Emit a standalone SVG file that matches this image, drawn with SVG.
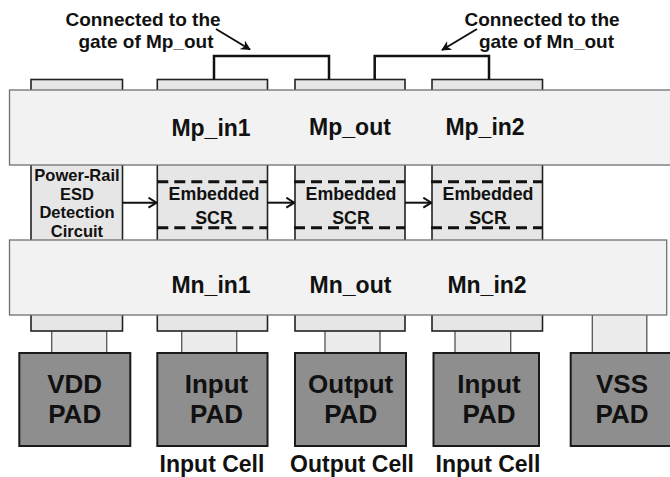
<svg xmlns="http://www.w3.org/2000/svg" width="670" height="477" viewBox="0 0 670 477">
<defs>
<style>
.t{font-family:"Liberation Sans",Arial,sans-serif;font-weight:bold;fill:#111;text-anchor:middle}
.rail{fill:#f2f2f2;stroke:#707070;stroke-width:1.3}
.col{fill:#e6e6e6;stroke:#222;stroke-width:1.6}
.link{fill:#ececec;stroke:#555;stroke-width:1.3}
.pad{fill:#8e8e8e;stroke:#1a1a1a;stroke-width:2}
.dash{stroke:#111;stroke-width:3;stroke-dasharray:11 6;fill:none}
.wire{stroke:#111;stroke-width:2.5;fill:none}
</style>
<marker id="fa" viewBox="0 0 10 10" refX="9" refY="5" markerWidth="10" markerHeight="10" markerUnits="userSpaceOnUse" orient="auto">
<path d="M0,0 L10,5 L0,10 L3,5 Z" fill="#111"/>
</marker>
<marker id="oa" viewBox="0 0 10 12" refX="9" refY="6" markerWidth="10" markerHeight="12" markerUnits="userSpaceOnUse" orient="auto">
<path d="M1,1 L9,6 L1,11" fill="none" stroke="#111" stroke-width="2"/>
</marker>
</defs>
<rect width="670" height="477" fill="#fff"/>

<g id="pad-links">
<rect class="link" x="51.7" y="330" width="55" height="23"/>
<rect class="link" x="181.7" y="330" width="55" height="23"/>
<rect class="link" x="325" y="330" width="55" height="23"/>
<rect class="link" x="455" y="330" width="55.7" height="23"/>
<rect class="link" x="592.3" y="314" width="54.5" height="39"/>
</g>

<g id="col-esd">
<rect class="col" x="31" y="79.5" width="91.5" height="251.5"/>
</g>
<g id="col-in1">
<rect class="col" x="157.3" y="79.5" width="110.2" height="251.5"/>
</g>
<g id="col-out">
<rect class="col" x="295" y="79.5" width="110" height="251.5"/>
</g>
<g id="col-in2">
<rect class="col" x="432" y="79.5" width="110.5" height="251.5"/>
</g>

<g id="vdd-rail">
<rect class="rail" x="9.5" y="90" width="670" height="75"/>
<text class="t" x="211" y="136" font-size="23">Mp_in1</text>
<text class="t" x="350" y="135" font-size="23">Mp_out</text>
<text class="t" x="485" y="135" font-size="23">Mp_in2</text>
</g>
<g id="vss-rail">
<rect class="rail" x="9.5" y="240" width="657.2" height="75"/>
<text class="t" x="211" y="292.5" font-size="23">Mn_in1</text>
<text class="t" x="350.5" y="292.5" font-size="23">Mn_out</text>
<text class="t" x="487" y="292.5" font-size="23">Mn_in2</text>
</g>

<g id="esd-detect">
<text class="t" x="77" y="181" font-size="16.5">Power-Rail</text>
<text class="t" x="77" y="199.5" font-size="16.5">ESD</text>
<text class="t" x="77" y="218" font-size="16.5">Detection</text>
<text class="t" x="77" y="236.5" font-size="16.5">Circuit</text>
</g>

<g id="scr1">
<line class="dash" x1="157.3" y1="181.7" x2="267.5" y2="181.7"/>
<line class="dash" x1="157.3" y1="227.7" x2="267.5" y2="227.7"/>
<text class="t" x="214" y="200" font-size="17.8">Embedded</text>
<text class="t" x="214" y="224" font-size="17.8">SCR</text>
</g>
<g id="scr2">
<line class="dash" x1="294" y1="181.7" x2="405" y2="181.7"/>
<line class="dash" x1="294" y1="227.7" x2="405" y2="227.7"/>
<text class="t" x="351" y="200" font-size="17.8">Embedded</text>
<text class="t" x="351" y="224" font-size="17.8">SCR</text>
</g>
<g id="scr3">
<line class="dash" x1="431" y1="181.7" x2="542.5" y2="181.7"/>
<line class="dash" x1="431" y1="227.7" x2="542.5" y2="227.7"/>
<text class="t" x="488" y="200" font-size="17.8">Embedded</text>
<text class="t" x="488" y="224" font-size="17.8">SCR</text>
</g>

<g id="pad-vdd">
<rect class="pad" x="19.3" y="353" width="111" height="93"/>
<text class="t" x="74.7" y="392.7" font-size="26">VDD</text>
<text class="t" x="74.7" y="423.3" font-size="26">PAD</text>
</g>
<g id="pad-in1">
<rect class="pad" x="157.3" y="353" width="110.2" height="93"/>
<text class="t" x="216.5" y="392.7" font-size="26">Input</text>
<text class="t" x="216.5" y="423.3" font-size="26">PAD</text>
</g>
<g id="pad-out">
<rect class="pad" x="295" y="353" width="111" height="93"/>
<text class="t" x="350.7" y="392.7" font-size="26">Output</text>
<text class="t" x="350.7" y="423.3" font-size="26">PAD</text>
</g>
<g id="pad-in2">
<rect class="pad" x="433.5" y="353" width="105.5" height="93"/>
<text class="t" x="489" y="392.7" font-size="26">Input</text>
<text class="t" x="489" y="423.3" font-size="26">PAD</text>
</g>
<g id="pad-vss">
<rect class="pad" x="570.7" y="353" width="110" height="93"/>
<text class="t" x="622" y="392.7" font-size="26">VSS</text>
<text class="t" x="622" y="423.3" font-size="26">PAD</text>
</g>

<g id="cell-labels">
<text class="t" x="212" y="471.5" font-size="23">Input Cell</text>
<text class="t" x="352" y="471.5" font-size="23">Output Cell</text>
<text class="t" x="488" y="471.5" font-size="23">Input Cell</text>
</g>

<g id="notes">
<text class="t" x="143" y="25.7" font-size="19">Connected to the</text>
<text class="t" x="146" y="47.5" font-size="19">gate of Mp_out</text>
<text class="t" x="542" y="25.7" font-size="19">Connected to the</text>
<text class="t" x="546.5" y="47.5" font-size="19">gate of Mn_out</text>
</g>

<g id="connectors">
<path class="wire" d="M214,79.5 V56 H329 V79.5"/>
<path class="wire" d="M374.7,79.5 V56 H489 V79.5"/>
<line x1="216" y1="29" x2="250" y2="49.5" stroke="#111" stroke-width="2" marker-end="url(#fa)"/>
<line x1="477" y1="29" x2="442" y2="50" stroke="#111" stroke-width="2" marker-end="url(#fa)"/>
<line x1="122.5" y1="202.7" x2="156.5" y2="202.7" stroke="#111" stroke-width="2" marker-end="url(#oa)"/>
<line x1="267.5" y1="202.7" x2="294.3" y2="202.7" stroke="#111" stroke-width="2" marker-end="url(#oa)"/>
<line x1="405" y1="202.7" x2="431.3" y2="202.7" stroke="#111" stroke-width="2" marker-end="url(#oa)"/>
</g>
</svg>
